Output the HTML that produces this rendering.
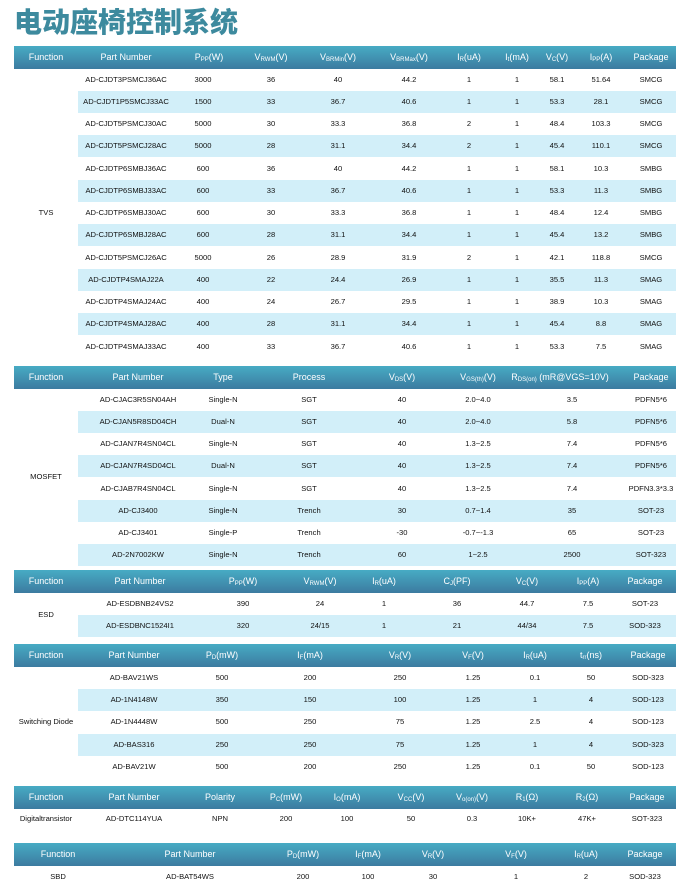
<!DOCTYPE html>
<html><head><meta charset="utf-8"><style>
body{margin:0;width:683px;height:892px;background:#fff;position:relative;overflow:hidden;font-family:"Liberation Sans",Arial,sans-serif;}
h1{position:absolute;left:14px;top:6px;margin:0;font-family:"Liberation Sans","Noto Sans CJK SC",sans-serif;font-size:28px;line-height:34px;font-weight:900;color:#3d8a9e;letter-spacing:0;}
.h{position:absolute;left:14px;width:662px;height:23px;background:linear-gradient(#47abc4,#3c7ba0);color:#fff;font-size:9px;line-height:23px;}
.r{position:absolute;left:14px;width:662px;height:22px;font-size:7.6px;line-height:22px;color:#111;}
.b{background:linear-gradient(90deg,transparent 64px,#d2eff9 64px);}
i{position:absolute;font-style:normal;width:110px;margin-left:-55px;text-align:center;white-space:nowrap;}
sub{font-size:6px;vertical-align:-1px;}
</style></head><body>
<h1>电动座椅控制系统</h1>

<div class="h" style="top:46px"><i style="left:32px">Function</i><i style="left:112px">Part Number</i><i style="left:195px">P<sub>PP</sub>(W)</i><i style="left:257px">V<sub>RWM</sub>(V)</i><i style="left:324px">V<sub>BRMin</sub>(V)</i><i style="left:395px">V<sub>BRMax</sub>(V)</i><i style="left:455px">I<sub>R</sub>(uA)</i><i style="left:503px">I<sub>t</sub>(mA)</i><i style="left:543px">V<sub>C</sub>(V)</i><i style="left:587px">I<sub>PP</sub>(A)</i><i style="left:637px">Package</i></div>
<div class="r" style="top:69px"><i style="left:112px">AD-CJDT3PSMCJ36AC</i><i style="left:189px">3000</i><i style="left:257px">36</i><i style="left:324px">40</i><i style="left:395px">44.2</i><i style="left:455px">1</i><i style="left:503px">1</i><i style="left:543px">58.1</i><i style="left:587px">51.64</i><i style="left:637px">SMCG</i></div>
<div class="r b" style="top:91px"><i style="left:112px">AD-CJDT1P5SMCJ33AC</i><i style="left:189px">1500</i><i style="left:257px">33</i><i style="left:324px">36.7</i><i style="left:395px">40.6</i><i style="left:455px">1</i><i style="left:503px">1</i><i style="left:543px">53.3</i><i style="left:587px">28.1</i><i style="left:637px">SMCG</i></div>
<div class="r" style="top:113px"><i style="left:112px">AD-CJDT5PSMCJ30AC</i><i style="left:189px">5000</i><i style="left:257px">30</i><i style="left:324px">33.3</i><i style="left:395px">36.8</i><i style="left:455px">2</i><i style="left:503px">1</i><i style="left:543px">48.4</i><i style="left:587px">103.3</i><i style="left:637px">SMCG</i></div>
<div class="r b" style="top:135px"><i style="left:112px">AD-CJDT5PSMCJ28AC</i><i style="left:189px">5000</i><i style="left:257px">28</i><i style="left:324px">31.1</i><i style="left:395px">34.4</i><i style="left:455px">2</i><i style="left:503px">1</i><i style="left:543px">45.4</i><i style="left:587px">110.1</i><i style="left:637px">SMCG</i></div>
<div class="r" style="top:158px"><i style="left:112px">AD-CJDTP6SMBJ36AC</i><i style="left:189px">600</i><i style="left:257px">36</i><i style="left:324px">40</i><i style="left:395px">44.2</i><i style="left:455px">1</i><i style="left:503px">1</i><i style="left:543px">58.1</i><i style="left:587px">10.3</i><i style="left:637px">SMBG</i></div>
<div class="r b" style="top:180px"><i style="left:112px">AD-CJDTP6SMBJ33AC</i><i style="left:189px">600</i><i style="left:257px">33</i><i style="left:324px">36.7</i><i style="left:395px">40.6</i><i style="left:455px">1</i><i style="left:503px">1</i><i style="left:543px">53.3</i><i style="left:587px">11.3</i><i style="left:637px">SMBG</i></div>
<div class="r" style="top:202px"><i style="left:32px">TVS</i><i style="left:112px">AD-CJDTP6SMBJ30AC</i><i style="left:189px">600</i><i style="left:257px">30</i><i style="left:324px">33.3</i><i style="left:395px">36.8</i><i style="left:455px">1</i><i style="left:503px">1</i><i style="left:543px">48.4</i><i style="left:587px">12.4</i><i style="left:637px">SMBG</i></div>
<div class="r b" style="top:224px"><i style="left:112px">AD-CJDTP6SMBJ28AC</i><i style="left:189px">600</i><i style="left:257px">28</i><i style="left:324px">31.1</i><i style="left:395px">34.4</i><i style="left:455px">1</i><i style="left:503px">1</i><i style="left:543px">45.4</i><i style="left:587px">13.2</i><i style="left:637px">SMBG</i></div>
<div class="r" style="top:247px"><i style="left:112px">AD-CJDT5PSMCJ26AC</i><i style="left:189px">5000</i><i style="left:257px">26</i><i style="left:324px">28.9</i><i style="left:395px">31.9</i><i style="left:455px">2</i><i style="left:503px">1</i><i style="left:543px">42.1</i><i style="left:587px">118.8</i><i style="left:637px">SMCG</i></div>
<div class="r b" style="top:269px"><i style="left:112px">AD-CJDTP4SMAJ22A</i><i style="left:189px">400</i><i style="left:257px">22</i><i style="left:324px">24.4</i><i style="left:395px">26.9</i><i style="left:455px">1</i><i style="left:503px">1</i><i style="left:543px">35.5</i><i style="left:587px">11.3</i><i style="left:637px">SMAG</i></div>
<div class="r" style="top:291px"><i style="left:112px">AD-CJDTP4SMAJ24AC</i><i style="left:189px">400</i><i style="left:257px">24</i><i style="left:324px">26.7</i><i style="left:395px">29.5</i><i style="left:455px">1</i><i style="left:503px">1</i><i style="left:543px">38.9</i><i style="left:587px">10.3</i><i style="left:637px">SMAG</i></div>
<div class="r b" style="top:313px"><i style="left:112px">AD-CJDTP4SMAJ28AC</i><i style="left:189px">400</i><i style="left:257px">28</i><i style="left:324px">31.1</i><i style="left:395px">34.4</i><i style="left:455px">1</i><i style="left:503px">1</i><i style="left:543px">45.4</i><i style="left:587px">8.8</i><i style="left:637px">SMAG</i></div>
<div class="r" style="top:336px"><i style="left:112px">AD-CJDTP4SMAJ33AC</i><i style="left:189px">400</i><i style="left:257px">33</i><i style="left:324px">36.7</i><i style="left:395px">40.6</i><i style="left:455px">1</i><i style="left:503px">1</i><i style="left:543px">53.3</i><i style="left:587px">7.5</i><i style="left:637px">SMAG</i></div>

<div class="h" style="top:366px"><i style="left:32px">Function</i><i style="left:124px">Part Number</i><i style="left:209px">Type</i><i style="left:295px">Process</i><i style="left:388px">V<sub>DS</sub>(V)</i><i style="left:464px">V<sub>GS(th)</sub>(V)</i><i style="left:546px">R<sub>DS(on)</sub> (mR@VGS=10V)</i><i style="left:637px">Package</i></div>
<div class="r" style="top:389px"><i style="left:124px">AD-CJAC3R5SN04AH</i><i style="left:209px">Single-N</i><i style="left:295px">SGT</i><i style="left:388px">40</i><i style="left:464px">2.0~4.0</i><i style="left:558px">3.5</i><i style="left:637px">PDFN5*6</i></div>
<div class="r b" style="top:411px"><i style="left:124px">AD-CJAN5R8SD04CH</i><i style="left:209px">Dual-N</i><i style="left:295px">SGT</i><i style="left:388px">40</i><i style="left:464px">2.0~4.0</i><i style="left:558px">5.8</i><i style="left:637px">PDFN5*6</i></div>
<div class="r" style="top:433px"><i style="left:124px">AD-CJAN7R4SN04CL</i><i style="left:209px">Single-N</i><i style="left:295px">SGT</i><i style="left:388px">40</i><i style="left:464px">1.3~2.5</i><i style="left:558px">7.4</i><i style="left:637px">PDFN5*6</i></div>
<div class="r b" style="top:455px"><i style="left:124px">AD-CJAN7R4SD04CL</i><i style="left:209px">Dual-N</i><i style="left:295px">SGT</i><i style="left:388px">40</i><i style="left:464px">1.3~2.5</i><i style="left:558px">7.4</i><i style="left:637px">PDFN5*6</i></div>
<div class="r" style="top:466px;height:0"><i style="left:32px">MOSFET</i></div>
<div class="r" style="top:478px"><i style="left:124px">AD-CJAB7R4SN04CL</i><i style="left:209px">Single-N</i><i style="left:295px">SGT</i><i style="left:388px">40</i><i style="left:464px">1.3~2.5</i><i style="left:558px">7.4</i><i style="left:637px">PDFN3.3*3.3</i></div>
<div class="r b" style="top:500px"><i style="left:124px">AD-CJ3400</i><i style="left:209px">Single-N</i><i style="left:295px">Trench</i><i style="left:388px">30</i><i style="left:464px">0.7~1.4</i><i style="left:558px">35</i><i style="left:637px">SOT-23</i></div>
<div class="r" style="top:522px"><i style="left:124px">AD-CJ3401</i><i style="left:209px">Single-P</i><i style="left:295px">Trench</i><i style="left:388px">-30</i><i style="left:464px">-0.7~-1.3</i><i style="left:558px">65</i><i style="left:637px">SOT-23</i></div>
<div class="r b" style="top:544px"><i style="left:124px">AD-2N7002KW</i><i style="left:209px">Single-N</i><i style="left:295px">Trench</i><i style="left:388px">60</i><i style="left:464px">1~2.5</i><i style="left:558px">2500</i><i style="left:637px">SOT-323</i></div>

<div class="h" style="top:570px"><i style="left:32px">Function</i><i style="left:126px">Part Number</i><i style="left:229px">P<sub>PP</sub>(W)</i><i style="left:306px">V<sub>RWM</sub>(V)</i><i style="left:370px">I<sub>R</sub>(uA)</i><i style="left:443px">C<sub>J</sub>(PF)</i><i style="left:513px">V<sub>C</sub>(V)</i><i style="left:574px">I<sub>PP</sub>(A)</i><i style="left:631px">Package</i></div>
<div class="r" style="top:593px"><i style="left:126px">AD-ESDBNB24VS2</i><i style="left:229px">390</i><i style="left:306px">24</i><i style="left:370px">1</i><i style="left:443px">36</i><i style="left:513px">44.7</i><i style="left:574px">7.5</i><i style="left:631px">SOT-23</i></div>
<div class="r" style="top:604px;height:0"><i style="left:32px">ESD</i></div>
<div class="r b" style="top:615px"><i style="left:126px">AD-ESDBNC1524I1</i><i style="left:229px">320</i><i style="left:306px">24/15</i><i style="left:370px">1</i><i style="left:443px">21</i><i style="left:513px">44/34</i><i style="left:574px">7.5</i><i style="left:631px">SOD-323</i></div>

<div class="h" style="top:644px"><i style="left:32px">Function</i><i style="left:120px">Part Number</i><i style="left:208px">P<sub>D</sub>(mW)</i><i style="left:296px">I<sub>F</sub>(mA)</i><i style="left:386px">V<sub>R</sub>(V)</i><i style="left:459px">V<sub>F</sub>(V)</i><i style="left:521px">I<sub>R</sub>(uA)</i><i style="left:577px">t<sub>rr</sub>(ns)</i><i style="left:634px">Package</i></div>
<div class="r" style="top:667px"><i style="left:120px">AD-BAV21WS</i><i style="left:208px">500</i><i style="left:296px">200</i><i style="left:386px">250</i><i style="left:459px">1.25</i><i style="left:521px">0.1</i><i style="left:577px">50</i><i style="left:634px">SOD-323</i></div>
<div class="r b" style="top:689px"><i style="left:120px">AD-1N4148W</i><i style="left:208px">350</i><i style="left:296px">150</i><i style="left:386px">100</i><i style="left:459px">1.25</i><i style="left:521px">1</i><i style="left:577px">4</i><i style="left:634px">SOD-123</i></div>
<div class="r" style="top:711px"><i style="left:32px">Switching Diode</i><i style="left:120px">AD-1N4448W</i><i style="left:208px">500</i><i style="left:296px">250</i><i style="left:386px">75</i><i style="left:459px">1.25</i><i style="left:521px">2.5</i><i style="left:577px">4</i><i style="left:634px">SOD-123</i></div>
<div class="r b" style="top:734px"><i style="left:120px">AD-BAS316</i><i style="left:208px">250</i><i style="left:296px">250</i><i style="left:386px">75</i><i style="left:459px">1.25</i><i style="left:521px">1</i><i style="left:577px">4</i><i style="left:634px">SOD-323</i></div>
<div class="r" style="top:756px"><i style="left:120px">AD-BAV21W</i><i style="left:208px">500</i><i style="left:296px">200</i><i style="left:386px">250</i><i style="left:459px">1.25</i><i style="left:521px">0.1</i><i style="left:577px">50</i><i style="left:634px">SOD-123</i></div>

<div class="h" style="top:786px"><i style="left:32px">Function</i><i style="left:120px">Part Number</i><i style="left:206px">Polarity</i><i style="left:272px">P<sub>C</sub>(mW)</i><i style="left:333px">I<sub>O</sub>(mA)</i><i style="left:397px">V<sub>CC</sub>(V)</i><i style="left:458px">V<sub>o(on)</sub>(V)</i><i style="left:513px">R<sub>1</sub>(Ω)</i><i style="left:573px">R<sub>2</sub>(Ω)</i><i style="left:633px">Package</i></div>
<div class="r" style="top:808px"><i style="left:32px">Digitaltransistor</i><i style="left:120px">AD-DTC114YUA</i><i style="left:206px">NPN</i><i style="left:272px">200</i><i style="left:333px">100</i><i style="left:397px">50</i><i style="left:458px">0.3</i><i style="left:513px">10K+</i><i style="left:573px">47K+</i><i style="left:633px">SOT-323</i></div>

<div class="h" style="top:843px"><i style="left:44px">Function</i><i style="left:176px">Part Number</i><i style="left:289px">P<sub>D</sub>(mW)</i><i style="left:354px">I<sub>F</sub>(mA)</i><i style="left:419px">V<sub>R</sub>(V)</i><i style="left:502px">V<sub>F</sub>(V)</i><i style="left:572px">I<sub>R</sub>(uA)</i><i style="left:631px">Package</i></div>
<div class="r" style="top:866px"><i style="left:44px">SBD</i><i style="left:176px">AD-BAT54WS</i><i style="left:289px">200</i><i style="left:354px">100</i><i style="left:419px">30</i><i style="left:502px">1</i><i style="left:572px">2</i><i style="left:631px">SOD-323</i></div>
</body></html>
